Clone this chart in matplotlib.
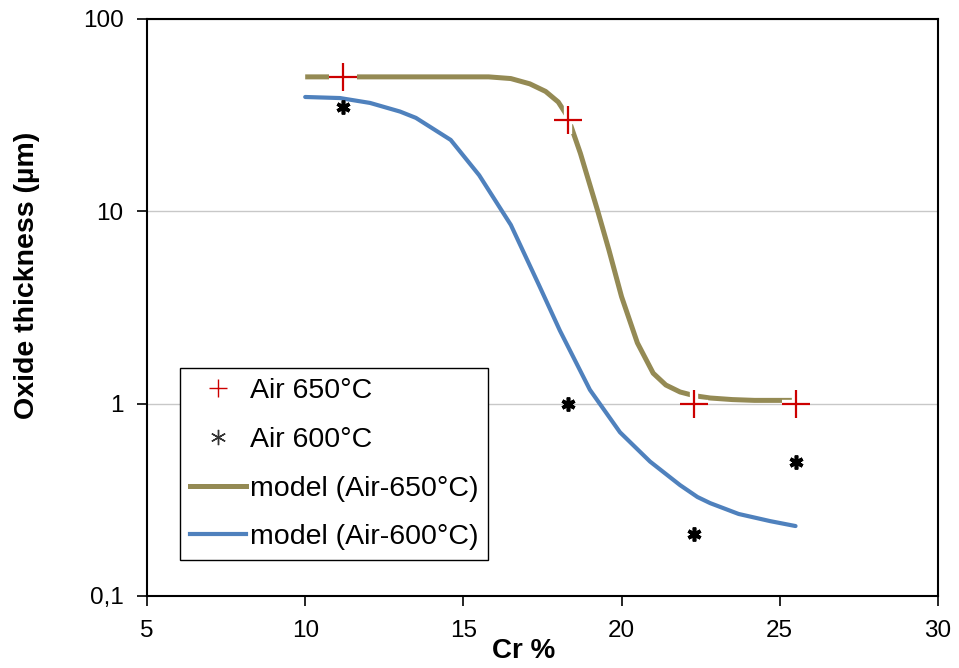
import matplotlib.pyplot as plt
import numpy as np

plt.rcParams['font.family'] = ['Liberation Sans', 'DejaVu Sans']

# measured oxide thickness (µm) vs Cr content (%)
cr_meas = [11.2, 18.3, 22.3, 25.5]
ox_650 = [50, 30, 1.0, 1.0]
ox_600 = [35, 1.0, 0.21, 0.5]

# model curves
cr_m650 = [10.0, 11.0, 12.0, 13.0, 14.0, 15.0, 15.8, 16.5, 17.1, 17.6, 18.0, 18.3,
           18.7, 19.25, 19.6, 20.0, 20.5, 21.0, 21.4, 21.85, 22.3, 22.8, 23.5, 24.2, 25.0, 25.5]
ox_m650 = [50, 50, 50, 50, 50, 50, 50, 49, 46, 42, 37, 31,
           20, 10.0, 6.3, 3.6, 2.07, 1.44, 1.25, 1.15, 1.1, 1.07, 1.05, 1.04, 1.04, 1.04]
cr_m600 = [10.0, 11.1, 12.05, 13.0, 13.5, 14.6, 15.5, 16.5, 17.4, 18.05, 19.0,
           19.95, 20.9, 21.85, 22.4, 22.8, 23.7, 24.7, 25.5]
ox_m600 = [39.3, 38.8, 36.6, 33.0, 30.6, 23.5, 15.4, 8.5, 4.1, 2.4, 1.18,
           0.71, 0.50, 0.377, 0.327, 0.304, 0.267, 0.245, 0.231]

olive = '#948A54'
blue = '#4F81BD'
red = '#CC0000'

fig = plt.figure(figsize=(9.59, 6.68), dpi=100)
ax = fig.add_axes([0.1533, 0.1078, 0.8247, 0.8638])

ax.plot(cr_m650, ox_m650, color=olive, lw=3.6, solid_capstyle='butt', zorder=2)
ax.plot(cr_m600, ox_m600, color=blue, lw=3.0, solid_capstyle='round', zorder=2)

# white halo behind the markers, then the markers themselves
ax.plot(cr_meas, ox_650, ls='none', marker='+', ms=20, mew=6, color='white', zorder=3)
ax.plot(cr_meas, ox_650, ls='none', marker='+', ms=20, mew=1.6, color=red, zorder=4)
ax.plot(cr_meas, ox_600, ls='none', marker=(6, 2, 0), ms=10, mew=2.6, color='black', zorder=4)

# legend entries
h1, = ax.plot([], [], ls='none', marker='+', ms=13, mew=1.0, color=red, label='Air 650°C')
h2, = ax.plot([], [], ls='none', marker=(6, 2, 0), ms=11, mew=1.0, color='#333333', label='Air 600°C')
h3, = ax.plot([], [], color=olive, lw=3.6, label='model (Air-650°C)')
h4, = ax.plot([], [], color=blue, lw=3.0, label='model (Air-600°C)')

ax.set_yscale('log')
ax.set_xlim(5, 30)
ax.set_ylim(0.1, 100)
ax.set_xticks([5, 10, 15, 20, 25, 30])
ax.set_yticks([0.1, 1, 10, 100])
ax.set_yticklabels(['0,1', '1', '10', '100'])
ax.minorticks_off()
ax.yaxis.grid(True, color='#C8C8C8', lw=1.0)
ax.set_axisbelow(True)

for s in ax.spines.values():
    s.set_linewidth(1.5)
ax.tick_params(direction='out', length=7, width=1.2, labelsize=17.5, pad=10)

ax.set_ylabel('Oxide thickness (µm)', fontsize=20.5, fontweight='bold')
ax.yaxis.set_label_coords(-0.135, 0.555)
ax.set_xlabel('Cr %', fontsize=20, fontweight='bold')
ax.xaxis.set_label_coords(0.4766, -0.072)

leg = ax.legend(handles=[h1, h2, h3, h4], loc='upper left', bbox_to_anchor=(0.042, 0.395),
                fontsize=20.5, frameon=True, fancybox=False, edgecolor='black', framealpha=1,
                handlelength=1.95, handletextpad=0.15, borderpad=0.35, labelspacing=0.8,
                borderaxespad=0)
leg.get_frame().set_linewidth(1.0)

fig.savefig('out.png', dpi=100)
